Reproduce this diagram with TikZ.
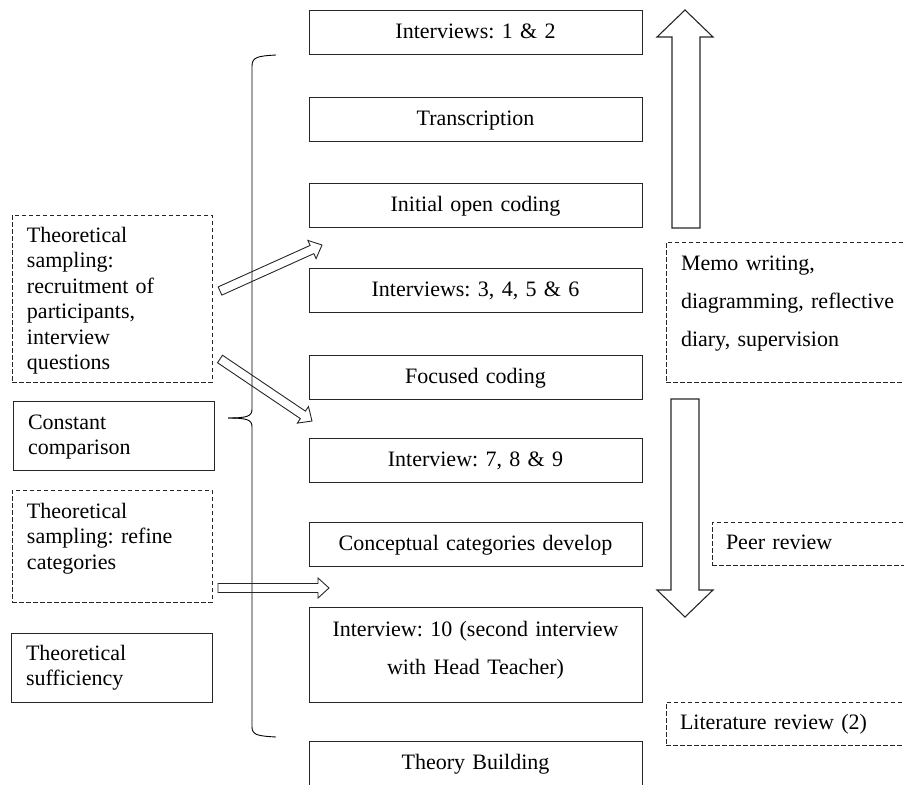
\documentclass[tikz,border=0pt]{standalone}
\usepackage{fontspec}
\setmainfont{Liberation Serif}
\usetikzlibrary{calc}
\frenchspacing

\tikzset{
  frame/.style={line width=0.9pt, draw=black!85},
  sidebox/.style={frame, font=\fontsize{22}{25.5}\selectfont, align=left,
    anchor=north west, inner xsep=15pt, inner ysep=0pt, outer sep=0pt},
  notebox/.style={frame, font=\fontsize{22}{38}\selectfont, align=left,
    anchor=north west, inner xsep=15pt, inner ysep=0pt, outer sep=0pt},
  dashbox/.style={dash pattern=on 4.5pt off 2.5pt},
  stage/.style={frame, font=\fontsize{22}{38}\selectfont, align=center,
    anchor=north west, text width=333pt, inner xsep=0pt, inner ysep=0pt,
    outer sep=0pt, text height=28pt, text depth=16pt},
  arrowline/.style={line width=0.9pt, draw=black!85, line join=miter},
}

% outlined block arrow from a tail point to a tip point
\newcommand\blockarrow[3]{%
  \coordinate (#3h) at ($(#2)!11pt!(#1)$);
  \draw[arrowline] ($(#1)!4.5pt!90:(#2)$) -- ($(#3h)!4.5pt!90:(#2)$)
    -- ($(#3h)!10pt!90:(#2)$) -- (#2) -- ($(#3h)!10pt!-90:(#2)$)
    -- ($(#3h)!4.5pt!-90:(#2)$) -- ($(#1)!4.5pt!-90:(#2)$) -- cycle;}

\begin{document}
\begin{tikzpicture}[x=1pt, y=-1pt]
\useasboundingbox (0,0) rectangle (904,784);

% main sequence of stages
\node[stage] (s1) at (309,10)  {Interviews: 1 \& 2};
\node[stage] (s2) at (309,97)  {Transcription};
\node[stage] (s3) at (309,183) {Initial open coding};
\node[stage] (s4) at (309,268) {Interviews: 3, 4, 5 \& 6};
\node[stage] (s5) at (309,355) {Focused coding};
\node[stage] (s6) at (309,438) {Interview: 7, 8 \& 9};
\node[stage] (s7) at (309,522) {Conceptual categories develop};
\node[stage, text height=29pt, text depth=66pt] (s8) at (309,607)
  {Interview: 10 (second interview\\ with Head Teacher)};
\node[stage] (s9) at (309,741) {Theory Building};

% processes on the left
\node[sidebox, dashbox, text width=170pt, text height=27pt, text depth=140pt] (ts1) at (12,215)
  {Theoretical\\ sampling:\\ recruitment of\\ participants,\\ interview\\ questions};
\node[sidebox, text width=171pt, text height=28pt, text depth=41pt] (cc) at (13,401)
  {Constant\\ comparison};
\node[sidebox, dashbox, text width=170pt, text height=28pt, text depth=84pt] (ts2) at (12,490)
  {Theoretical\\ sampling: refine\\ categories};
\node[sidebox, text width=171pt, text height=27pt, text depth=42pt] (tsuf) at (11,633)
  {Theoretical\\ sufficiency};

% supporting activities on the right
\node[notebox, dashbox, text width=225pt, text height=28pt, text depth=112pt] (memo) at (666,242)
  {Memo writing,\\ diagramming, reflective\\ diary, supervision};
\node[notebox, dashbox, inner xsep=14pt, text width=200pt, text height=27pt, text depth=16pt] (peer) at (712,522)
  {Peer review};
\node[notebox, dashbox, inner xsep=14pt, text width=240pt, text height=27pt, text depth=16pt] (lit) at (666,702)
  {Literature review (2)};

% brace spanning the stages
\draw[frame, draw=black] (276,55) .. controls (258,56) and (252,57) .. (252,66) -- (252,409)
  .. controls (252,416) and (248,418) .. (228,418);
\draw[frame, draw=black] (228,418) .. controls (248,418) and (252,420) .. (252,427) -- (252,727)
  .. controls (252,735) and (258,736) .. (276,737);

% large up and down arrows
\draw[arrowline, line width=1.1pt] (672,228) -- (672,37) -- (657,37) -- (685,10)
  -- (713,37) -- (700,37) -- (700,228) -- cycle;
\draw[arrowline, line width=1.1pt] (671,399) -- (671,590) -- (657,590) -- (685,617)
  -- (713,590) -- (699,590) -- (699,399) -- cycle;

% sampling arrows into the sequence
\coordinate (a1t) at (220,291);
\coordinate (a1h) at (322,245);
\coordinate (a2t) at (220,359);
\coordinate (a2h) at (312,421);
\coordinate (a3t) at (218,588);
\coordinate (a3h) at (329,588);
\blockarrow{a1t}{a1h}{p}
\blockarrow{a2t}{a2h}{q}
\blockarrow{a3t}{a3h}{r}
\end{tikzpicture}
\end{document}
